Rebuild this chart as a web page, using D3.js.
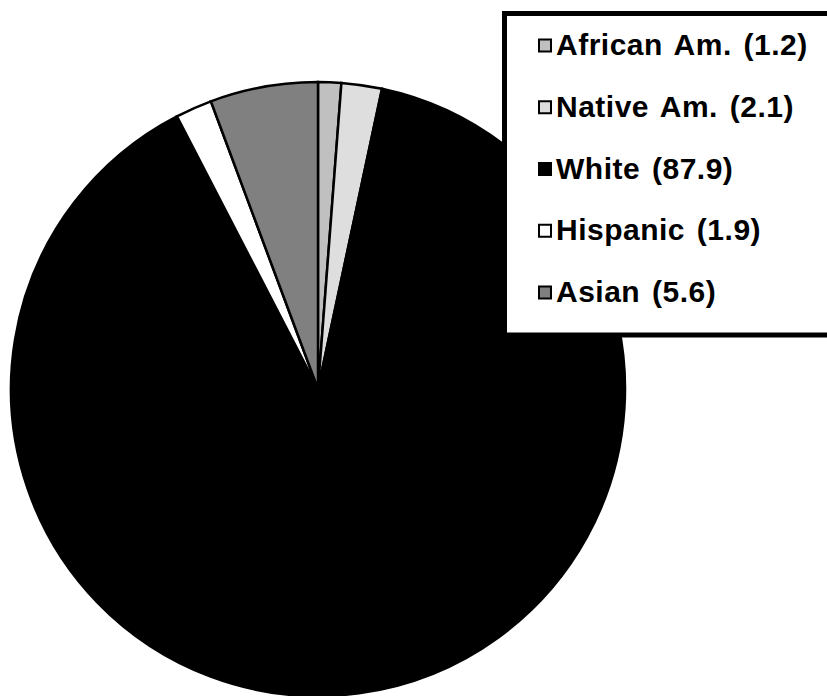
<!DOCTYPE html>
<html>
<head>
<meta charset="utf-8">
<script src="https://cdn.jsdelivr.net/npm/d3@7"></script>
<style>
  html, body { margin: 0; padding: 0; background: #fff; }
  svg { display: block; }
</style>
</head>
<body>
<svg id="chart" width="827" height="696"></svg>
<script>
const categories = ["African Am.", "Native Am.", "White", "Hispanic", "Asian"];
const values = [1.2, 2.1, 87.9, 1.9, 5.6];
const colors = ["#c0c0c0", "#dedede", "#000000", "#ffffff", "#808080"];

const svg = d3.select("#chart");
const cx = 318, cy = 389, r = 307;

const pie = d3.pie().sort(null).value(d => d.value);
const data = categories.map((c, i) => ({ name: c, value: values[i], color: colors[i] }));
const arc = d3.arc().innerRadius(0).outerRadius(r);

const g = svg.append("g").attr("transform", `translate(${cx},${cy})`);
g.selectAll("path.slice")
  .data(pie(data))
  .join("path")
  .attr("class", "slice")
  .attr("d", arc)
  .attr("fill", d => d.data.color)
  .attr("stroke", "#000")
  .attr("stroke-width", 2.5)
  .attr("stroke-linejoin", "miter");

// Legend
const lg = svg.append("g");
lg.append("rect")
  .attr("x", 504.5).attr("y", 13.5)
  .attr("width", 330).attr("height", 321.5)
  .attr("fill", "#fff")
  .attr("stroke", "#000")
  .attr("stroke-width", 5);

const rowY = d3.scalePoint().domain(categories).range([55, 302]);
const items = lg.selectAll("g.item").data(data).join("g").attr("class", "item")
  .attr("transform", d => `translate(0,${rowY(d.name)})`);
items.append("rect")
  .attr("x", 539).attr("y", -15.5)
  .attr("width", 12).attr("height", 12)
  .attr("fill", d => d.color)
  .attr("stroke", "#000").attr("stroke-width", 2);
items.append("text")
  .attr("x", 556).attr("y", 0)
  .attr("font-family", "'Liberation Sans', Arial, sans-serif")
  .attr("font-weight", "bold")
  .attr("font-size", 30)
  .attr("letter-spacing", "0.5px")
  .attr("word-spacing", "3px")
  .attr("fill", "#000")
  .text((d, i) => `${d.name} (${values[i]})`);
</script>
</body>
</html>
